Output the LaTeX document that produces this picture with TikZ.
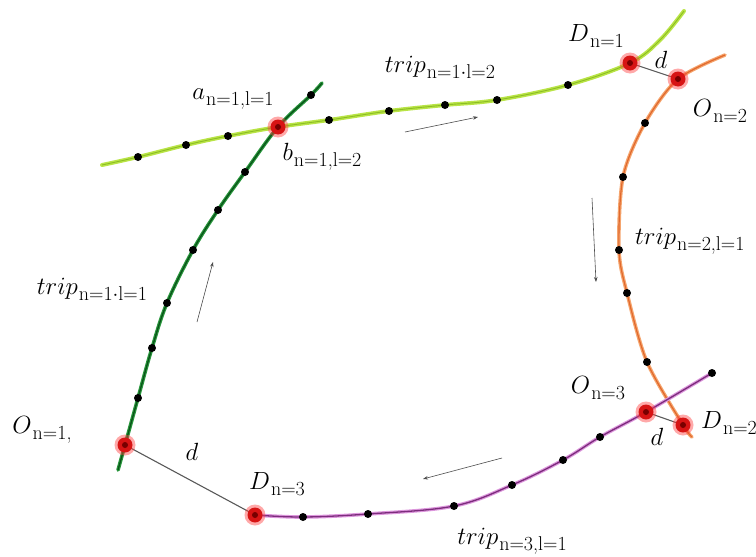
\documentclass[tikz,border=0pt]{standalone}
\usetikzlibrary{arrows.meta}
\newcommand\lab[2]{$#1$\kern1pt\raisebox{-6pt}{\fontsize{20}{22}\selectfont #2}}
\definecolor{lgreen}{RGB}{185,228,70}
\definecolor{lgreenc}{RGB}{140,190,35}
\definecolor{dgreen}{RGB}{40,150,60}
\definecolor{dgreenc}{RGB}{10,85,25}
\definecolor{orng}{RGB}{245,165,110}
\definecolor{orngc}{RGB}{225,105,45}
\definecolor{purp}{RGB}{220,150,220}
\definecolor{purpc}{RGB}{125,45,125}
\definecolor{reddot}{RGB}{215,20,20}
\definecolor{reddark}{RGB}{120,0,0}
\begin{document}
\begin{tikzpicture}[x=1pt,y=-1pt,
  bdot/.style={circle,fill=black,inner sep=0pt,minimum size=8pt},
  halo/.style={circle,fill=red!75,opacity=0.45,inner sep=0pt,minimum size=21pt},
  rdot/.style={circle,fill=reddot,inner sep=0pt,minimum size=15pt,path picture={\fill[reddark] (path picture bounding box.center) circle (3pt);}},
  lbl/.style={inner sep=1pt,font=\fontsize{26}{30}\selectfont},
  dline/.style={draw=black!65,line width=1.1pt},
  flow/.style={draw=black!70,line width=0.6pt,-{Stealth[length=5pt,width=3.5pt]}},
  smooth curve/.style={smooth,tension=0.6}]
\useasboundingbox (0,0) rectangle (756,557);
% --- coordinates ---
% light green trip n=1 l=2
\coordinate (L0) at (102,165);
\coordinate (L1) at (138,157);
\coordinate (L2) at (186,145);
\coordinate (L3) at (228,136);
\coordinate (X)  at (278,127);
\coordinate (L5) at (329,120);
\coordinate (L6) at (389,111);
\coordinate (L7) at (445,105);
\coordinate (L8) at (497,100);
\coordinate (L9) at (568,85);
\coordinate (D1) at (630,63);
\coordinate (L11) at (660,40);
\coordinate (L12) at (684,11);
% dark green trip n=1 l=1
\coordinate (G0) at (118,470);
\coordinate (O1) at (125,445);
\coordinate (G2) at (138,398);
\coordinate (G3) at (152,348);
\coordinate (G4) at (167,303);
\coordinate (G5) at (193,250);
\coordinate (G6) at (218,210);
\coordinate (G7) at (245,172);
\coordinate (G9) at (311,95);
\coordinate (G10) at (322,83);
% orange trip n=2 l=1
\coordinate (R0) at (725,55);
\coordinate (O2) at (678,79);
\coordinate (R2) at (645,123);
\coordinate (R3) at (623,177);
\coordinate (R4) at (619,250);
\coordinate (R5) at (627,293);
\coordinate (R6) at (647,362);
\coordinate (D2) at (683,425);
\coordinate (R8) at (692,437);
% purple trip n=3 l=1
\coordinate (P0) at (712,373);
\coordinate (O3) at (646,412);
\coordinate (P2) at (600,437);
\coordinate (P3) at (563,460);
\coordinate (P4) at (512,485);
\coordinate (P5) at (454,506);
\coordinate (P6) at (368,514);
\coordinate (P7) at (303,517);
\coordinate (D3) at (255,515);
% --- trip curves ---
\draw[lgreen,line width=4pt,line cap=round] plot[smooth curve] coordinates {(L0) (L1) (L2) (L3) (X) (L5) (L6) (L7) (L8) (L9) (D1) (L11) (L12)};
\draw[lgreenc,line width=0.9pt] plot[smooth curve] coordinates {(L0) (L1) (L2) (L3) (X) (L5) (L6) (L7) (L8) (L9) (D1) (L11) (L12)};
\draw[dgreen,line width=3.6pt,line cap=round] plot[smooth curve] coordinates {(G0) (O1) (G2) (G3) (G4) (G5) (G6) (G7) (X) (G9) (G10)};
\draw[dgreenc,line width=1.3pt] plot[smooth curve] coordinates {(G0) (O1) (G2) (G3) (G4) (G5) (G6) (G7) (X) (G9) (G10)};
\draw[orng,line width=3.6pt,line cap=round] plot[smooth,tension=0.5] coordinates {(R0) (O2) (R2) (R3) (R4) (R5) (R6) (D2) (R8)};
\draw[orngc,line width=1.2pt] plot[smooth,tension=0.5] coordinates {(R0) (O2) (R2) (R3) (R4) (R5) (R6) (D2) (R8)};
\draw[purp,line width=3.6pt,line cap=round] plot[smooth curve] coordinates {(P0) (O3) (P2) (P3) (P4) (P5) (P6) (P7) (D3)};
\draw[purpc,line width=1.3pt] plot[smooth curve] coordinates {(P0) (O3) (P2) (P3) (P4) (P5) (P6) (P7) (D3)};
% --- distance links ---
\draw[dline] (O1) -- (D3);
\draw[dline] (D1) -- (O2);
\draw[dline] (O3) -- (D2);
% --- stop dots ---
\foreach \p in {L1,L2,L3,L5,L6,L7,L8,L9,G2,G3,G4,G5,G6,G7,G9,R2,R3,R4,R5,R6,P0,P2,P3,P4,P5,P6,P7}
  \node[bdot] (dot\p) at (\p) {};
% --- transfer points ---
\foreach \p in {X,D1,O2,O1,D3,O3,D2} {
  \node[halo] at (\p) {};
  \node[rdot] (red\p) at (\p) {};
}
% --- direction arrows ---
\coordinate (a1s) at (405,132); \coordinate (a1e) at (478,117);
\coordinate (a2s) at (197,322); \coordinate (a2e) at (213,262);
\coordinate (a3s) at (592,198); \coordinate (a3e) at (596,282);
\coordinate (a4s) at (502,458); \coordinate (a4e) at (423,479);
\draw[flow] (a1s) -- (a1e);
\draw[flow] (a2s) -- (a2e);
\draw[flow] (a3s) -- (a3e);
\draw[flow] (a4s) -- (a4e);
% --- labels ---
\node[lbl] (la) at (233,99) {\lab{a}{n=1,l=1}};
\node[lbl] (lb) at (322,157) {\lab{b}{n=1,l=2}};
\node[lbl] (lt12) at (440,67) {\lab{trip}{n=1$\cdot$l=2}};
\node[lbl] (lD1) at (596,36) {\lab{D}{n=1}};
\node[lbl] (ld1) at (661,60) {$d$};
\node[lbl] (lO2) at (720,111) {\lab{O}{n=2}};
\node[lbl,anchor=west] (lt21) at (634,241) {\lab{trip}{n=2,l=1}};
\node[lbl] (lO3) at (598,388) {\lab{O}{n=3}};
\node[lbl,anchor=west] (lD2) at (700,423) {\lab{D}{n=2}};
\node[lbl] (ld2) at (657,437) {$d$};
\node[lbl] (lt11) at (92,289) {\lab{trip}{n=1$\cdot$l=1}};
\node[lbl] (lO1) at (42,430) {\lab{O}{n=1,}};
\node[lbl] (ld3) at (192,452) {$d$};
\node[lbl] (lD3) at (277,484) {\lab{D}{n=3}};
\node[lbl] (lt31) at (512,541) {\lab{trip}{n=3,l=1}};
\end{tikzpicture}
\end{document}
